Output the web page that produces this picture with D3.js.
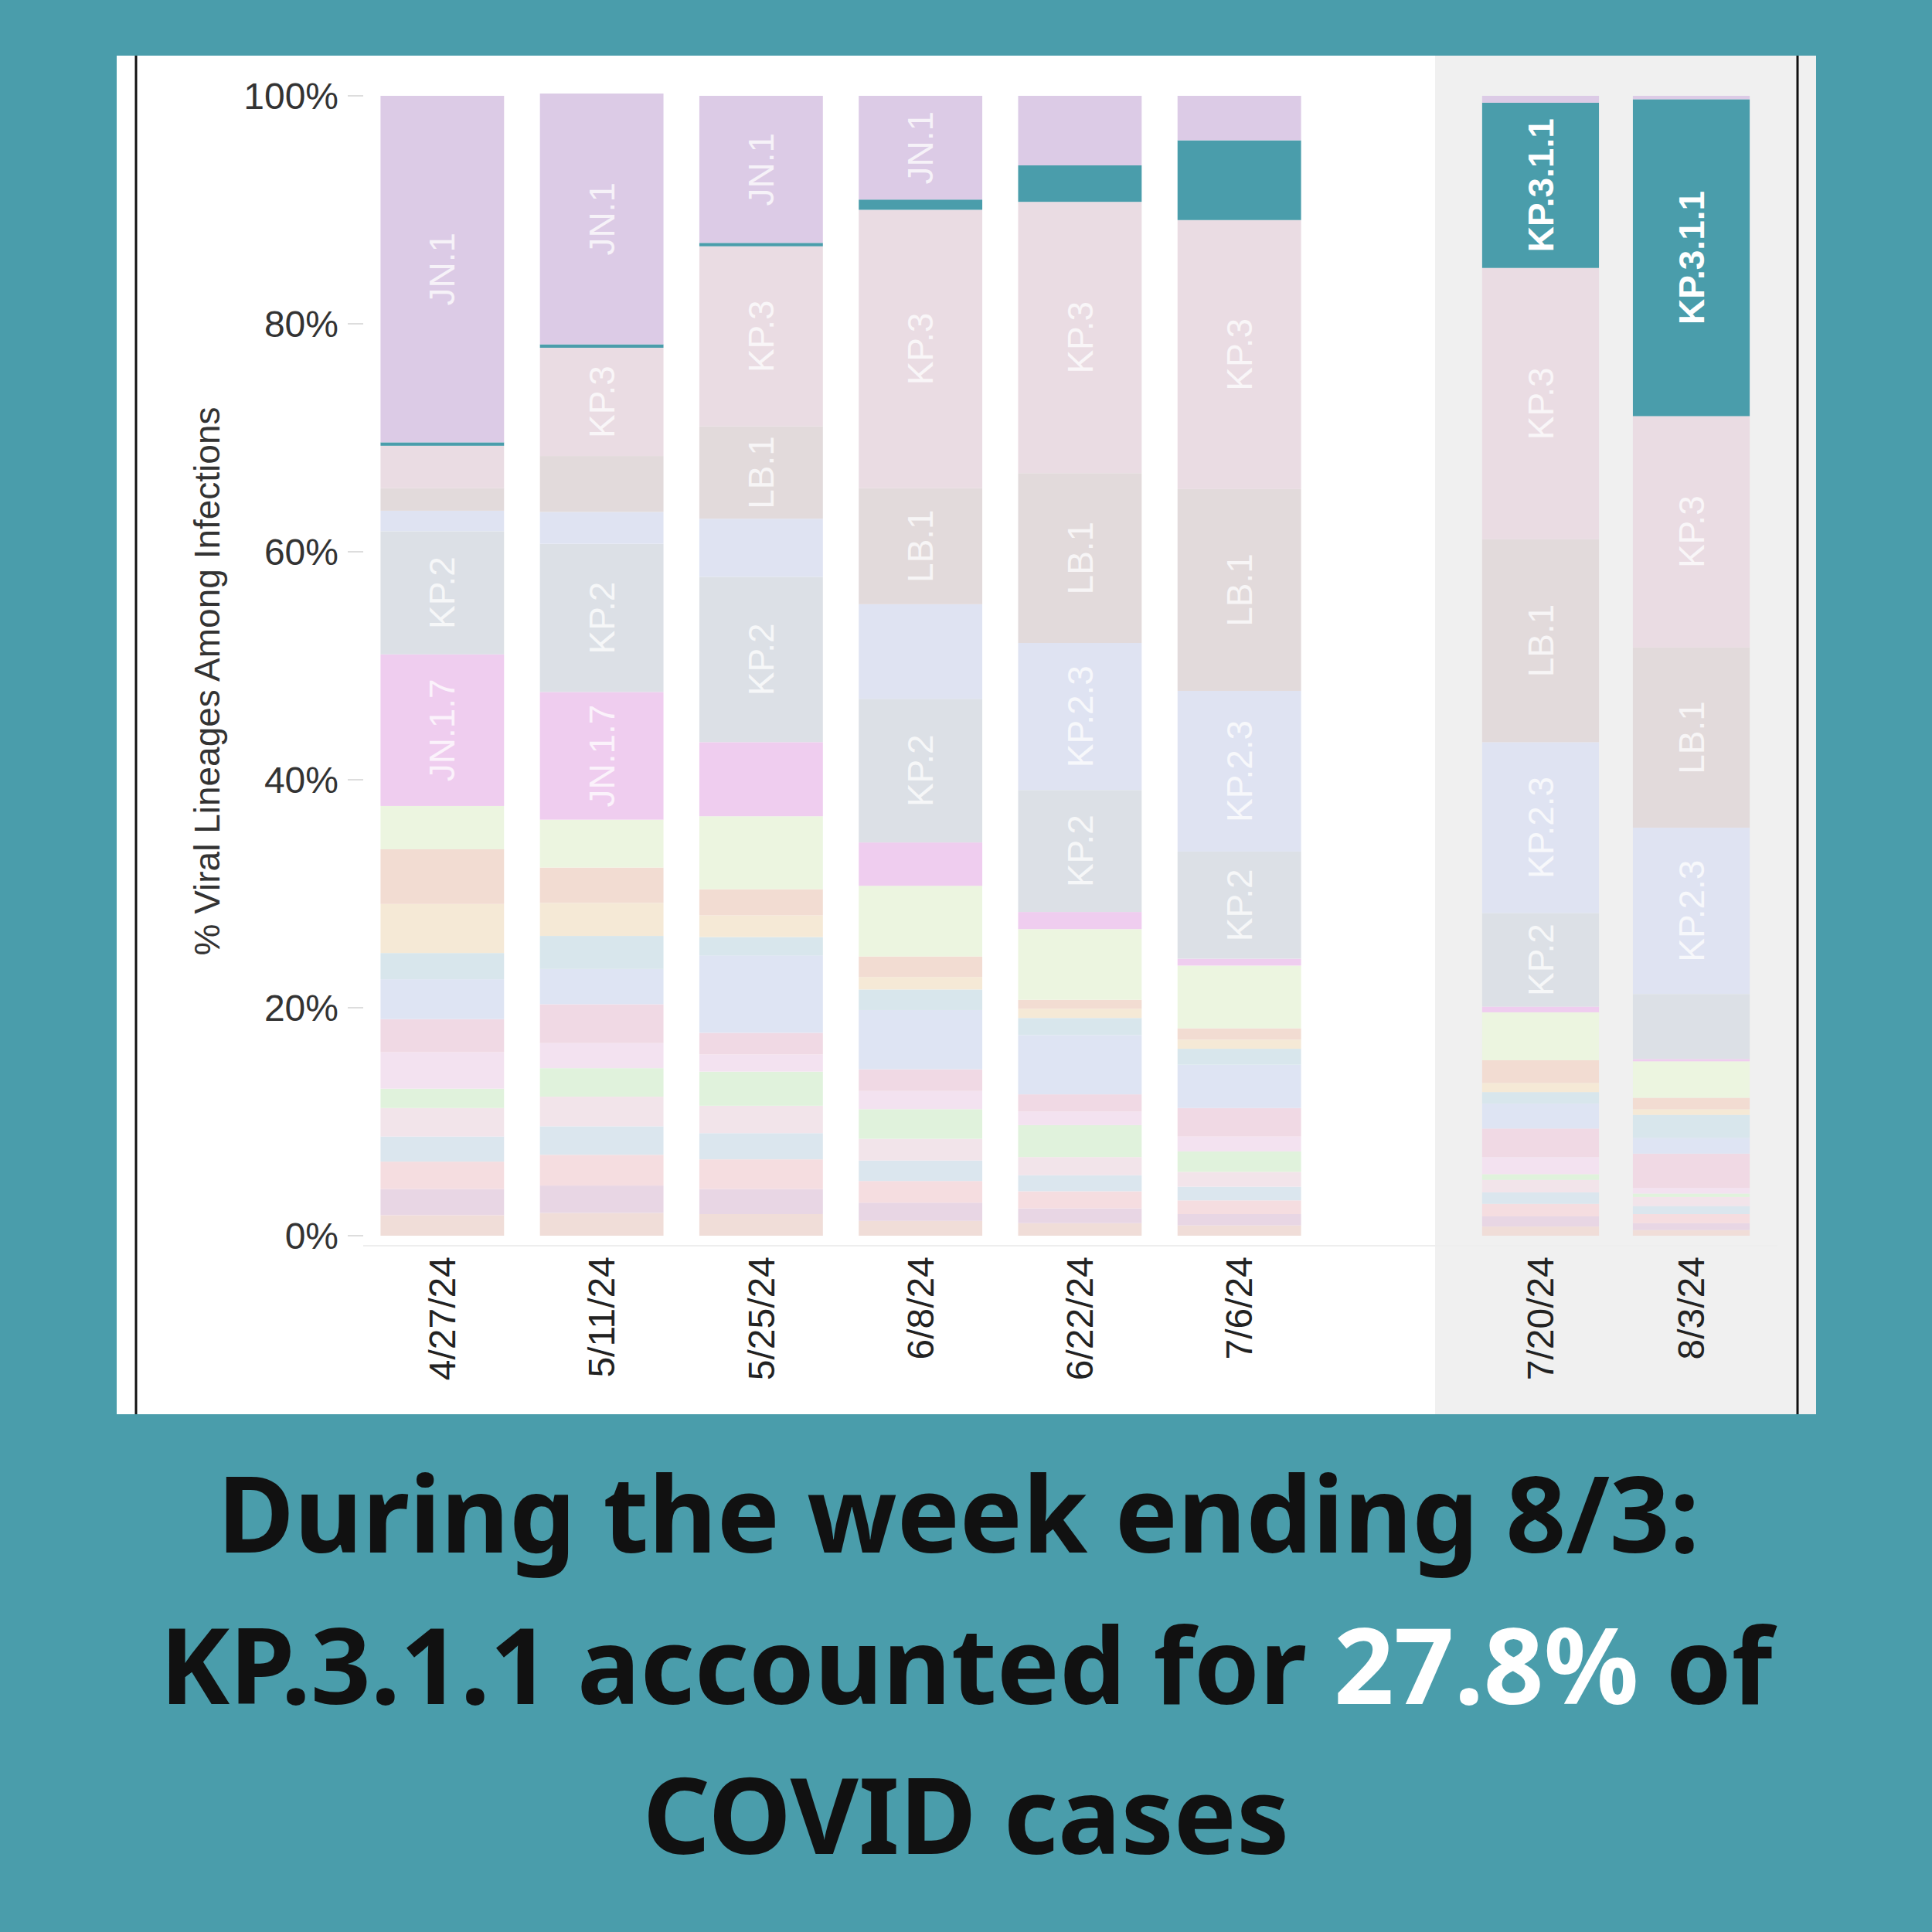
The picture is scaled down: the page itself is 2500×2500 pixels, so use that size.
<!DOCTYPE html>
<html><head><meta charset="utf-8">
<script src="https://cdn.jsdelivr.net/npm/d3@7"></script>
<style>body{margin:0;background:#4a9dab}</style>
</head><body>
<svg id="chart" width="2500" height="2500"></svg>
<script>
const weeks = ['4/27/24', '5/11/24', '5/25/24', '6/8/24', '6/22/24', '7/6/24', '7/20/24', '8/3/24'];
const panelA = weeks.slice(0, 6);
const panelB = weeks.slice(6);

// stack order, bottom to top
const lineages = ['Other', 'BA.2.86.1', 'KP.1.2', 'KP.2.15', 'JN.1.8.1', 'JN.1.11.1', 'XDP', 'KS.1', 'JN.1.16', 'JN.1.13.1',
  'KP.1.1', 'JN.1.18', 'JN.1.16.1', 'JN.1.7', 'KP.2', 'KP.2.3', 'LB.1', 'KP.3', 'KP.3.1.1', 'JN.1'];

const share = {
  'Other':     [1.8, 2.0, 1.9, 1.3, 1.1, 0.9, 0.8, 0.5],
  'BA.2.86.1': [2.3, 2.4, 2.2, 1.6, 1.3, 1.0, 0.9, 0.6],
  'KP.1.2':    [2.4, 2.7, 2.6, 1.9, 1.5, 1.2, 1.1, 0.8],
  'KP.2.15':   [2.2, 2.5, 2.3, 1.8, 1.4, 1.2, 1.0, 0.7],
  'JN.1.8.1':  [2.5, 2.6, 2.4, 1.9, 1.6, 1.3, 1.1, 0.8],
  'JN.1.11.1': [1.7, 2.5, 3.0, 2.6, 2.8, 1.8, 0.5, 0.3],
  'XDP':       [3.2, 2.2, 1.5, 1.6, 1.2, 1.3, 1.5, 0.5],
  'KS.1':      [2.9, 3.4, 1.9, 1.9, 1.5, 2.5, 2.5, 3.0],
  'JN.1.16':   [3.5, 3.1, 6.8, 5.2, 5.2, 3.8, 2.2, 1.4],
  'JN.1.13.1': [2.3, 2.9, 1.6, 1.8, 1.5, 1.4, 1.0, 2.0],
  'KP.1.1':    [4.3, 2.9, 1.9, 1.1, 0.8, 0.8, 0.8, 0.5],
  'JN.1.18':   [4.8, 3.1, 2.3, 1.8, 0.8, 1.0, 2.0, 1.0],
  'JN.1.16.1': [3.8, 4.2, 6.4, 6.2, 6.2, 5.5, 4.2, 3.2],
  'JN.1.7':    [13.3, 11.2, 6.5, 3.8, 1.5, 0.6, 0.5, 0.2],
  'KP.2':      [10.8, 13.0, 14.5, 12.6, 10.7, 9.4, 8.2, 5.7],
  'KP.2.3':    [1.8, 2.8, 5.1, 8.3, 12.9, 14.1, 15.0, 14.6],
  'LB.1':      [2.0, 4.9, 8.1, 10.2, 14.9, 17.7, 17.8, 15.8],
  'KP.3':      [3.7, 9.5, 15.8, 24.4, 23.8, 23.6, 23.8, 20.3],
  'KP.3.1.1':  [0.3, 0.3, 0.3, 0.9, 3.2, 7.0, 14.5, 27.8],
  'JN.1':      [30.4, 22.0, 12.9, 9.1, 6.1, 3.9, 0.6, 0.3]
};

// which weeks carry a label inside the segment
const labelled = {
  'JN.1': ['4/27/24', '5/11/24', '5/25/24', '6/8/24'],
  'KP.3.1.1': ['7/20/24', '8/3/24'],
  'KP.3': ['5/11/24', '5/25/24', '6/8/24', '6/22/24', '7/6/24', '7/20/24', '8/3/24'],
  'LB.1': ['5/25/24', '6/8/24', '6/22/24', '7/6/24', '7/20/24', '8/3/24'],
  'KP.2.3': ['6/22/24', '7/6/24', '7/20/24', '8/3/24'],
  'KP.2': ['4/27/24', '5/11/24', '5/25/24', '6/8/24', '6/22/24', '7/6/24', '7/20/24'],
  'JN.1.7': ['4/27/24', '5/11/24']
};

const yTicks = [0, 20, 40, 60, 80, 100];

const colors = {
  'Other': '#f0ddd8', 'BA.2.86.1': '#e8d6e4', 'KP.1.2': '#f5dde0', 'KP.2.15': '#dbe6ee', 'JN.1.8.1': '#f2e4ea',
  'JN.1.11.1': '#e0f2dc', 'XDP': '#f3e2f0', 'KS.1': '#f0d9e4', 'JN.1.16': '#dee4f3', 'JN.1.13.1': '#d8e6ec',
  'KP.1.1': '#f5e9d6', 'JN.1.18': '#f2dcd2', 'JN.1.16.1': '#ecf5e0', 'JN.1.7': '#efcdef', 'KP.2': '#dce0e6',
  'KP.2.3': '#dfe3f2', 'LB.1': '#e2dadb', 'KP.3': '#eadce3', 'KP.3.1.1': '#4a9dab', 'JN.1': '#dccbe6'
};

const svg = d3.select('#chart');
svg.append('rect').attr('x', 151).attr('y', 72).attr('width', 2199).attr('height', 1758).attr('fill', '#ffffff');
svg.append('rect').attr('x', 1857).attr('y', 72).attr('width', 493).attr('height', 1758).attr('fill', '#f0f0f0');
svg.append('line').attr('x1', 176).attr('x2', 176).attr('y1', 72).attr('y2', 1830).attr('stroke', '#111').attr('stroke-width', 3);
svg.append('line').attr('x1', 2326).attr('x2', 2326).attr('y1', 72).attr('y2', 1830).attr('stroke', '#111').attr('stroke-width', 3);

const y = d3.scaleLinear().domain([0, 100]).range([1599, 124]);
const xA = d3.scaleBand().domain(panelA).range([446, 1730]).padding(0.225);
const xB = d3.scaleBand().domain(panelB).range([1874, 2308]).padding(0.225);
const x = w => panelA.includes(w) ? xA(w) : xB(w);
const bw = w => panelA.includes(w) ? xA.bandwidth() : xB.bandwidth();

const rows = weeks.map((w, i) => {
  const r = { week: w };
  lineages.forEach(l => r[l] = share[l][i]);
  return r;
});
const series = d3.stack().keys(lineages)(rows);

const g = svg.append('g');
series.forEach(s => {
  g.selectAll(null).data(s).join('rect')
    .attr('x', d => x(d.data.week))
    .attr('width', d => bw(d.data.week))
    .attr('y', d => y(d[1]))
    .attr('height', d => Math.max(1.5, y(d[0]) - y(d[1])))
    .attr('fill', colors[s.key]);
  const lw = labelled[s.key] || [];
  g.selectAll(null).data(s.filter(d => lw.includes(d.data.week))).join('text')
    .attr('transform', d => `translate(${x(d.data.week) + bw(d.data.week) / 2},${(y(d[0]) + y(d[1])) / 2}) rotate(-90)`)
    .attr('text-anchor', 'middle').attr('dy', '0.35em')
    .attr('font-family', 'Liberation Sans, Arial, sans-serif').attr('font-size', 46)
    .attr('font-weight', s.key === 'KP.3.1.1' ? 'bold' : 'normal')
    .attr('fill', s.key === 'KP.3.1.1' ? '#ffffff' : 'rgba(255,255,255,0.75)')
    .text(s.key);
});

// y axis
const yAxis = svg.append('g');
yAxis.selectAll('text').data(yTicks).join('text')
  .attr('x', 438).attr('y', d => y(d)).attr('dy', '0.35em').attr('text-anchor', 'end')
  .attr('font-family', 'Liberation Sans, Arial, sans-serif').attr('font-size', 48).attr('fill', '#333')
  .text(d => d + '%');
yAxis.selectAll('line').data(yTicks).join('line')
  .attr('x1', 450).attr('x2', 470).attr('y1', d => y(d)).attr('y2', d => y(d)).attr('stroke', '#ddd').attr('stroke-width', 2);
svg.append('text')
  .attr('transform', `translate(268,${(y(0) + y(100)) / 2 + 20}) rotate(-90)`)
  .attr('text-anchor', 'middle').attr('dy', '0.35em')
  .attr('font-family', 'Liberation Sans, Arial, sans-serif').attr('font-size', 46).attr('fill', '#333')
  .text('% Viral Lineages Among Infections');

// x axis
svg.append('line').attr('x1', 470).attr('x2', 2300).attr('y1', 1612).attr('y2', 1612).attr('stroke', '#eee').attr('stroke-width', 2);
svg.selectAll('.xlab').data(weeks).join('text')
  .attr('transform', w => `translate(${x(w) + bw(w) / 2},1626) rotate(-90)`)
  .attr('text-anchor', 'end').attr('dy', '0.35em')
  .attr('font-family', 'Liberation Sans, Arial, sans-serif').attr('font-size', 48).attr('fill', '#222')
  .text(w => w);

// caption
const cap = svg.append('g').attr('font-family', 'Noto Sans, Open Sans, sans-serif').attr('font-weight', 'bold')
  .attr('font-size', 136).attr('text-anchor', 'middle').attr('fill', '#111');
cap.append('text').attr('x', 1240).attr('y', 2009).text('During the week ending 8/3:');
const t2 = cap.append('text').attr('x', 1250).attr('y', 2205);
t2.append('tspan').text('KP.3.1.1 accounted for ');
t2.append('tspan').attr('fill', '#ffffff').text('27.8%');
t2.append('tspan').text(' of');
cap.append('text').attr('x', 1250).attr('y', 2399).text('COVID cases');
</script>
</body></html>
